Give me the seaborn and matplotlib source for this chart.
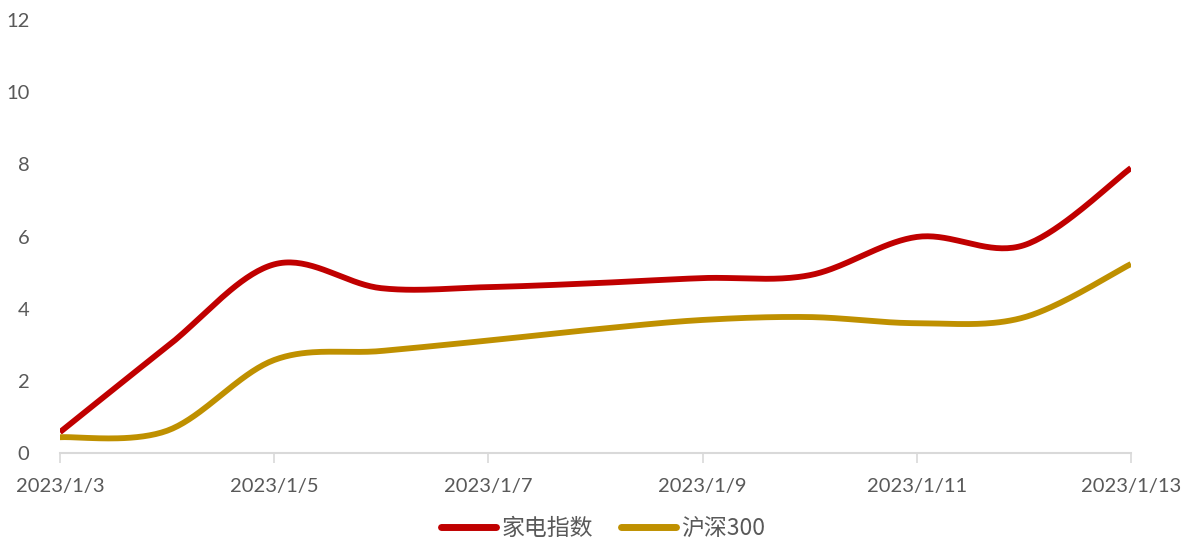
import numpy as np
import pandas as pd
import matplotlib
matplotlib.use("Agg")
import matplotlib.pyplot as plt
import seaborn as sns

# 数据
dates = ["2023/1/3", "2023/1/4", "2023/1/5", "2023/1/6", "2023/1/7", "2023/1/8",
         "2023/1/9", "2023/1/10", "2023/1/11", "2023/1/12", "2023/1/13"]
home_appliance = [0.58, 2.95, 5.23, 4.57, 4.60, 4.71, 4.85, 4.93, 5.99, 5.76, 7.90]
hs300 = [0.44, 0.62, 2.58, 2.83, 3.12, 3.43, 3.69, 3.77, 3.60, 3.76, 5.24]
series_names = ["家电指数", "沪深300"]
colors = ["#C00000", "#BF9000"]
y_ticks = [0, 2, 4, 6, 8, 10, 12]


def smooth(y, n=40):
    # Excel 风格的平滑线（Catmull-Rom 贝塞尔）
    y = np.asarray(y, dtype=float)
    x = np.arange(len(y), dtype=float)
    px = np.concatenate([[x[0]], x, [x[-1]]])
    py = np.concatenate([[y[0]], y, [y[-1]]])
    xs, ys = [], []
    for i in range(len(y) - 1):
        p0 = np.array([px[i], py[i]])
        p1 = np.array([px[i + 1], py[i + 1]])
        p2 = np.array([px[i + 2], py[i + 2]])
        p3 = np.array([px[i + 3], py[i + 3]])
        c1 = p1 + (p2 - p0) / 6
        c2 = p2 - (p3 - p1) / 6
        t = np.linspace(0, 1, n)[:, None]
        b = ((1 - t) ** 3) * p1 + 3 * ((1 - t) ** 2) * t * c1 + 3 * (1 - t) * t ** 2 * c2 + t ** 3 * p2
        xs.append(b[:, 0])
        ys.append(b[:, 1])
    return np.concatenate(xs), np.concatenate(ys)


sns.set_theme(style="white")
plt.rcParams['font.family'] = ['Noto Sans CJK SC', 'DejaVu Sans']

fig = plt.figure(figsize=(11.92, 5.42), dpi=100)
ax = fig.add_axes([0.0503, 0.164, 0.8985, 0.799])

for name, vals, c in zip(series_names, [home_appliance, hs300], colors):
    sx, sy = smooth(vals)
    df = pd.DataFrame({"x": sx, "y": sy})
    sns.lineplot(data=df, x="x", y="y", sort=False, color=c, linewidth=4.2,
                 label=name, ax=ax, solid_capstyle="butt")

ax.set_xlim(0, len(dates) - 1)
ax.set_ylim(0, 12)
ax.set_yticks(y_ticks)
ax.set_yticklabels([str(v) for v in y_ticks])
ax.set_xticks(range(0, len(dates), 2))
ax.set_xticklabels(dates[::2])
ax.set_xlabel("")
ax.set_ylabel("")

for s in ["top", "right", "left"]:
    ax.spines[s].set_visible(False)
ax.spines["bottom"].set_color("#D9D9D9")
ax.spines["bottom"].set_linewidth(1.5)
ax.tick_params(axis="x", which="major", direction="out", length=7, width=1.2,
               color="#D9D9D9", labelsize=14.5, labelcolor="#595959", pad=11, bottom=True)
ax.tick_params(axis="y", length=0, labelsize=14.5, labelcolor="#595959", pad=22)
for lab in ax.get_xticklabels() + ax.get_yticklabels():
    lab.set_family(['Lato', 'DejaVu Sans'])

ax.get_legend().remove()
handles, labels = ax.get_legend_handles_labels()
leg = fig.legend(handles, labels, loc="center", bbox_to_anchor=(0.506, 0.025), ncol=2,
                 frameon=False, fontsize=16.5, handlelength=2.4, columnspacing=1.2,
                 handletextpad=0.25, borderpad=0)
for t in leg.get_texts():
    t.set_color("#595959")
for h in leg.get_lines():
    h.set_linewidth(5)
    h.set_solid_capstyle("round")

fig.savefig("out.png", dpi=100)
